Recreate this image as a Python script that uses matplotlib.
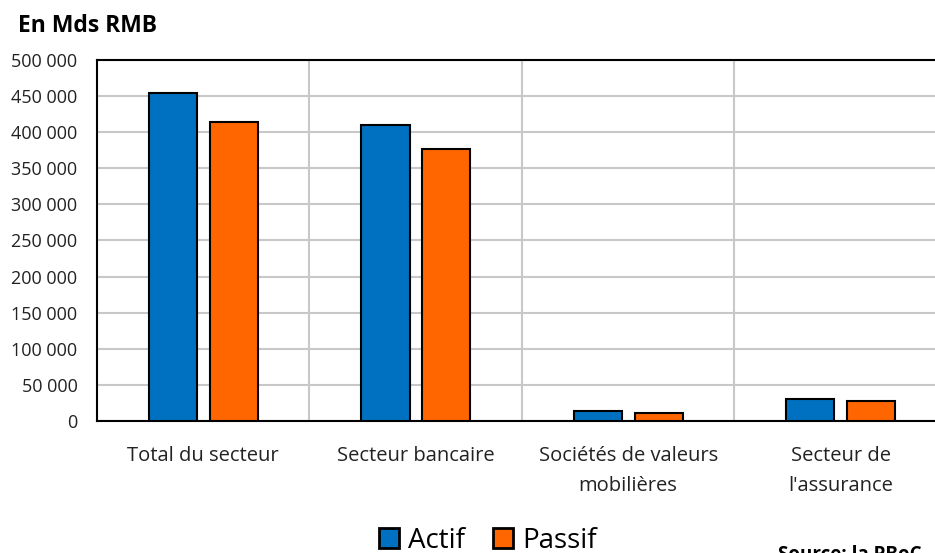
import numpy as np
import matplotlib.pyplot as plt
from matplotlib.patches import Patch

plt.rcParams['font.family'] = ['Open Sans', 'DejaVu Sans']

# donnees (en Mds RMB)
categories = ['Total du secteur', 'Secteur bancaire', 'Sociétés de valeurs\nmobilières', 'Secteur de\nl\'assurance']
actif = [454000, 410000, 14000, 30000]
passif = [414000, 377000, 11000, 27500]

c_actif = '#0070C0'
c_passif = '#FF6600'

fig = plt.figure(figsize=(9.35, 5.53), dpi=100)
ax = fig.add_axes([0.1037, 0.2387, 0.909, 0.6528])

x = np.arange(len(categories))
w = 0.226
ax.bar(x - 0.142, actif, w, color=c_actif, edgecolor='black', linewidth=1.5, zorder=3)
ax.bar(x + 0.145, passif, w, color=c_passif, edgecolor='black', linewidth=1.5, zorder=3)

ax.set_xlim(-0.5, len(categories) - 0.5)
ax.set_ylim(0, 500000)
ax.set_yticks(np.arange(0, 500001, 50000))
ax.set_yticklabels(['{:,}'.format(v).replace(',', ' ') for v in range(0, 500001, 50000)], fontsize=13, color='#222222')
ax.set_xticks(x)
ax.set_xticklabels(categories, fontsize=14.5, color='#222222', linespacing=1.65)
ax.tick_params(axis='y', length=0, pad=14)
ax.tick_params(axis='x', length=0, pad=18)

# grille
ax.grid(axis='y', color='#c8c8c8', linewidth=1.5, zorder=0)
for b in x[:-1] + 0.5:
    ax.axvline(b, color='#c8c8c8', linewidth=1.5, zorder=0)

for s in ['left', 'bottom', 'top']:
    ax.spines[s].set_linewidth(1.5)
    ax.spines[s].set_color('black')
ax.spines['right'].set_visible(False)

fig.text(0.019, 0.953, 'En Mds RMB', fontsize=16.5, fontweight='bold', va='center')

handles = [Patch(facecolor=c_actif, edgecolor='black', linewidth=2),
           Patch(facecolor=c_passif, edgecolor='black', linewidth=2)]
fig.legend(handles, ['Actif', 'Passif'], loc='center', bbox_to_anchor=(0.522, 0.022),
           ncol=2, frameon=False, fontsize=20, handlelength=0.7, handleheight=0.7,
           handletextpad=0.35, columnspacing=1.0, borderpad=0)

fig.text(0.832, -0.004, 'Source: la PBoC', fontsize=13.5, fontweight='bold', va='center')

fig.savefig('out.png', dpi=100)
